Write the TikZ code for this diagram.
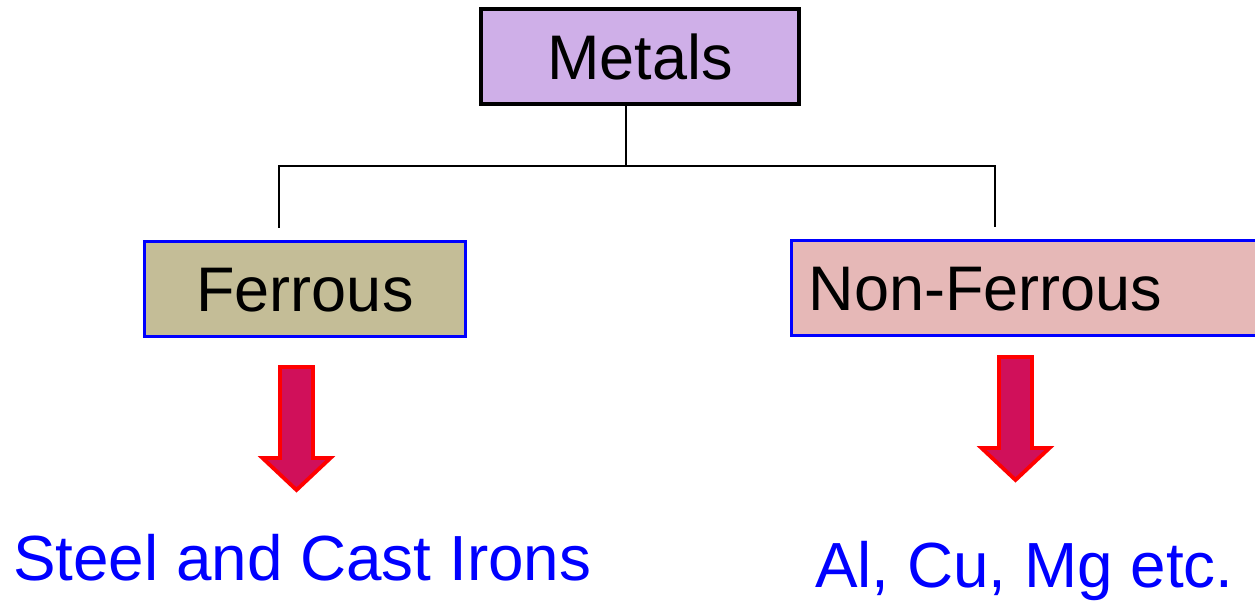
\documentclass[tikz,border=0pt]{standalone}
\usepackage{fontspec}
\setmainfont{Liberation Sans}
\usetikzlibrary{positioning}
\definecolor{metalfill}{RGB}{207,175,232}
\definecolor{ferrousfill}{RGB}{196,189,151}
\definecolor{nonferrousfill}{RGB}{230,184,183}
\definecolor{arrowfill}{RGB}{208,16,90}
\tikzset{
    class box/.style={
        draw,line width=3.8pt,
        minimum height=95pt,
        inner sep=0pt,text height=45pt,text depth=0pt,
        font=\fontsize{63pt}{70pt}\selectfont
    },
    tree line/.style={line width=2.2pt},
    block arrow/.style={draw=red,line width=3.8pt,fill=arrowfill,line join=miter},
    example text/.style={
        text=blue,inner sep=0pt,anchor=base west,
        font=\fontsize{63.8pt}{70pt}\selectfont
    },
}

\begin{document}
\begin{tikzpicture}[x=1pt,y=-1pt]
		\useasboundingbox (0,0) rectangle (1255,602);
		\node[class box,fill=metalfill,minimum width=318pt] (metals) at (640,56.5) {Metals};
		\node[class box,draw=blue,fill=ferrousfill,minimum width=321pt] (ferrous) at (305,289) {Ferrous};
		\node[class box,draw=blue,fill=nonferrousfill,anchor=west,inner xsep=17.5pt,
		      text width=440pt,align=left] (nonferrous) at (789.5,288) {Non-Ferrous};

		% tree lines
		\coordinate (split) at ([xshift=-14pt,yshift=-60pt]metals.south);
		\coordinate (ferrousdrop) at ([xshift=-26pt,yshift=12pt]ferrous.north);
		\coordinate (nonferrousdrop) at ([xshift=-34pt,yshift=12pt]nonferrous.north);
		\draw[tree line] ([xshift=-14pt]metals.south) -- (split);
		\draw[tree line] (ferrousdrop) |- (split) -| (nonferrousdrop);

		% block arrows
		\foreach \ax/\ay in {296.5/367,1015.5/357}
		\draw[block arrow] (\ax-16.5,\ay) -- ++(33,0) -- ++(0,91) -- ++(17.5,0)
		      -- (\ax,\ay+123) -- (\ax-34,\ay+91) -- ++(17.5,0) -- cycle;

		\node[example text] (steel) at (13,580) {Steel and Cast Irons};
		\node[example text] (alcu) at (815,587) {Al, Cu, Mg etc.};
	\end{tikzpicture}
\end{document}
